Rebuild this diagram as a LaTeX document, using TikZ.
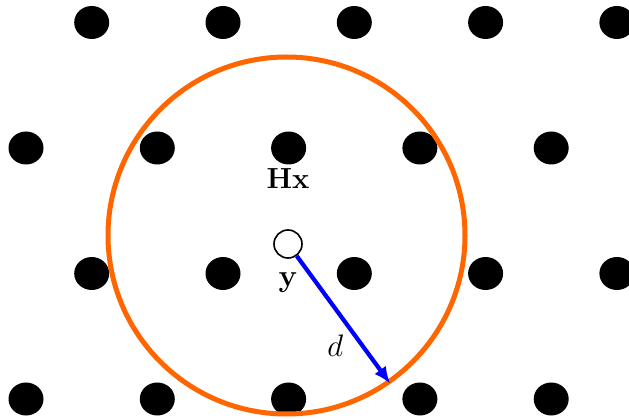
\documentclass[tikz,border=0pt]{standalone}
\usepackage{amsmath}
\usepackage{xcolor}
\usepackage{tikz}
\usetikzlibrary{arrows.meta,positioning,shapes.geometric}

\definecolor{ballorange}{RGB}{255,102,0}

\begin{document}
\begin{tikzpicture}[
    x=1pt, y=-1pt,
    point/.style={ellipse, fill=black, inner sep=0pt,
                  minimum width=35pt, minimum height=33pt},
    received/.style={circle, draw, line width=1.6pt, fill=white,
                     inner sep=0pt, minimum size=28pt},
    ball/.style={circle, draw=ballorange, line width=5pt,
                 inner sep=0pt, minimum size=357pt},
    lbl/.style={font=\huge, text=black, inner sep=2pt},
    arrow/.style={-{Latex[length=17pt,width=14pt]}, line width=4.2pt},
  ]

  \clip (0,0) rectangle (629,419);

  % lattice points
  \foreach \r in {0,...,3}
    \foreach \c in {0,...,4} {
      \pgfmathsetmacro{\px}{26 + 131.3*\c + 65.7*mod(\r+1,2)}
      \pgfmathsetmacro{\py}{22.5 + 125.5*\r}
      \node[point] (p-\r-\c) at (\px,\py) {};
    }

  % decoding ball
  \node[ball] (sphere) at (286.5,235.5) {};

  % received vector
  \node[received] (rx) at (288,244) {};
  \node[lbl, scale=1.4, above=37.5pt of rx] (hx) {$\mathbf{Hx}$};
  \node[lbl, scale=1.5, below=10.5pt of rx] (ylab) {$\mathbf{y}$};

  % Radius: y -> ball
  \draw[arrow, blue]
    (rx) -- node[pos=0.7, anchor=east, xshift=-13pt, lbl, scale=1.5] (dlab) {$d$}
    (sphere.-55);

\end{tikzpicture}
\end{document}
